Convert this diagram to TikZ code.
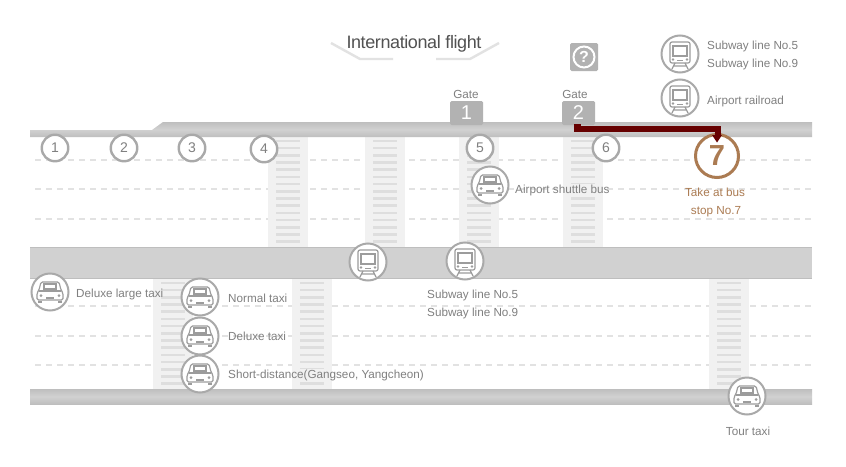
\documentclass[tikz,border=0pt]{standalone}
\usepackage{fontspec}
\setmainfont{Liberation Sans}
\usetikzlibrary{arrows.meta}
\definecolor{ringgray}{HTML}{A9A9A9}
\definecolor{icongray}{HTML}{9C9C9C}
\definecolor{txtgray}{HTML}{808080}
\definecolor{walkbg}{HTML}{F1F1F1}
\definecolor{walkbar}{HTML}{DEDEDE}
\definecolor{dashgray}{HTML}{E2E2E2}
\definecolor{bandmid}{HTML}{D1D1D1}
\definecolor{bandedge}{HTML}{BEBEBE}
\definecolor{boxgray}{HTML}{B2B2B2}
\definecolor{brownc}{HTML}{AB7B52}
\definecolor{routec}{HTML}{660000}
\tikzset{
  x=1pt,y=-1pt,
  band/.style={top color=bandedge,bottom color=bandedge,middle color=bandmid,draw=none},
  lane/.style={draw=dashgray,line width=2.4pt,dash pattern=on 6pt off 5pt},
  walk/.style={fill=walkbg,draw=none},
  lbl/.style={anchor=base west,inner sep=0pt,text=txtgray,font=\fontsize{11.7}{13}\selectfont},
  lblc/.style={anchor=base,inner sep=0pt,text=txtgray,font=\fontsize{11.7}{13}\selectfont},
  numring/.style={circle,draw=ringgray,line width=2.4pt,fill=white,minimum size=26.5pt,inner sep=0pt,text=txtgray,font=\fontsize{14}{14}\selectfont},
  iconring/.style={circle,draw=ringgray,line width=2pt,fill=white,minimum size=37pt,inner sep=0pt},
  gatebox/.style={rounded corners=1.5pt,fill=boxgray,draw=none,minimum width=33pt,minimum height=24pt,inner sep=0pt,text=white,font=\fontsize{20}{20}\selectfont},
  traingl/.pic={
    \draw[icongray,line width=1.2pt,rounded corners=2pt] (-10,-12) rectangle (10,9);
    \draw[icongray,line width=1.2pt] (-7,-8) rectangle (7,2);
    \fill[icongray] (-7,5.5) circle (1.3) (7,5.5) circle (1.3);
    \draw[icongray,line width=1.2pt] (-3,6.5) -- (3,6.5);
    \draw[icongray,line width=1.2pt] (-5,9) -- (-8,15) (5,9) -- (8,15) (-6.5,12) -- (6.5,12);
  },
  cargl/.pic={
    \draw[icongray,line width=1.2pt,rounded corners=1.5pt] (-13,8) -- (-13,1) -- (-11,-2) -- (-9,-10) -- (9,-10) -- (11,-2) -- (13,1) -- (13,8) -- cycle;
    \draw[icongray,line width=1.2pt] (-6,-8) rectangle (6,-3);
    \draw[icongray,line width=1.2pt] (-11,-1) -- (11,-1);
    \fill[icongray] (-9,3.5) circle (1.5) (9,3.5) circle (1.5);
    \draw[icongray,line width=1.2pt] (-4,6) -- (4,6);
    \draw[icongray,line width=2pt] (-12,9.5) -- (-8,9.5) (8,9.5) -- (12,9.5);
  },
}
\begin{document}
\begin{tikzpicture}
\useasboundingbox[fill=white] (0,0) rectangle (846,466);
% lanes
\foreach \yy in {160,189,219,306,336,365}{
  \draw[lane] (35,\yy) -- (812,\yy);
}
% crosswalks
\foreach \xx in {268,365,459,563}{
  \fill[walk] (\xx,137) rectangle (\xx+40,247);
  \foreach \k in {0,...,14}{
    \fill[walkbar] (\xx+8,139.6+\k*7.2) rectangle (\xx+32,142.2+\k*7.2);
  }
}
\foreach \xx in {153,292,709}{
  \fill[walk] (\xx,279) rectangle (\xx+40,389);
  \foreach \k in {0,...,14}{
    \fill[walkbar] (\xx+8,281.6+\k*7.2) rectangle (\xx+32,284.2+\k*7.2);
  }
}
% text gaps in the stripes
\fill[walkbg] (566,184) rectangle (600,195);
\fill[walkbg] (298,369) rectangle (326,380);
% roads
\path[band] (30,137) -- (30,130) -- (152,130) -- (163,122) -- (812,122) -- (812,137) -- cycle;
\fill[bandmid] (30,247) rectangle (812,279);
\fill[bandedge] (30,247) rectangle (812,248);
\fill[bandedge] (30,277.5) rectangle (812,279);
\path[band] (30,389) rectangle (812,404);
% title
\draw[dashgray,line width=2.4pt] (331,43) -- (360,59) -- (393,59);
\draw[dashgray,line width=2.4pt] (436,59) -- (470,59) -- (499,43);
\node[anchor=base,inner sep=0pt,text=black!68,font=\fontsize{18}{18}\selectfont\addfontfeature{LetterSpace=-2.2}] (title) at (414,48) {International flight};
% question box
\node[rounded corners=1.5pt,fill=boxgray,minimum size=28pt,inner sep=0pt] (helpbox) at (584,57) {};
\node[circle,draw=white,line width=2pt,minimum size=21pt,inner sep=0pt,text=white,font=\bfseries\fontsize{16}{16}\selectfont] (helpq) at (584,57) {?};
% gates
\node[lblc] (gatea) at (466,98) {Gate};
\node[lblc] (gateb) at (575,98) {Gate};
\node[gatebox] (gone) at (466.5,113) {1};
\node[gatebox] (gtwo) at (578.5,113) {2};
% number rings
\node[numring] (n1) at (55,148) {1};
\node[numring] (n2) at (124,148) {2};
\node[numring] (n3) at (192,148) {3};
\node[numring] (n4) at (264,149) {4};
\node[numring] (n5) at (480,148) {5};
\node[numring] (n6) at (606,148) {6};
\node[circle,draw=brownc,line width=3pt,fill=white,minimum size=43pt,inner sep=0pt,text=brownc,font=\bfseries\fontsize{29}{29}\selectfont] (n7) at (717,156) {7};
% route
\coordinate (rstart) at (577,128.5);
\fill[routec] (574,123.5) rectangle (580.5,131.5);
\draw[routec,line width=6pt] (rstart) -- (721,128.5);
\fill[routec] (715,125.5) rectangle (721,135);
\fill[routec] (712,135) -- (722,135) -- (717,142.5) -- cycle;
% train rings
\foreach \nm/\cx/\cy in {ta/680/54,tb/680/98,tc/368/262,td/465/261}{
  \node[iconring] (\nm) at (\cx,\cy) {};
  \pic at (\nm) {traingl};
}
% car rings
\foreach \nm/\cx/\cy in {ca/490/185,cb/50/292,cc/200/297,cd/200/336,ce/200/374,cf/747/396}{
  \node[iconring] (\nm) at (\cx,\cy) {};
  \pic at (\nm) {cargl};
}
% labels
\node[lbl] (l1) at (707,49) {Subway line No.5};
\node[lbl] (l2) at (707,67) {Subway line No.9};
\node[lbl] (l3) at (707,104) {Airport railroad};
\node[lblc,text=brownc] (l4) at (715,196) {Take at bus};
\node[lblc,text=brownc] (l5) at (716,214) {stop No.7};
\node[lbl] (l6) at (515,193) {Airport shuttle bus};
\node[lbl] (l7) at (427,298) {Subway line No.5};
\node[lbl] (l8) at (427,316) {Subway line No.9};
\node[lbl] (l9) at (76,297) {Deluxe large taxi};
\node[lbl] (l10) at (228,302) {Normal taxi};
\node[lbl] (l11) at (228,340) {Deluxe taxi};
\node[lbl] (l12) at (228,378) {Short-distance(Gangseo, Yangcheon)};
\node[lblc] (l13) at (748,435) {Tour taxi};
\end{tikzpicture}
\end{document}
